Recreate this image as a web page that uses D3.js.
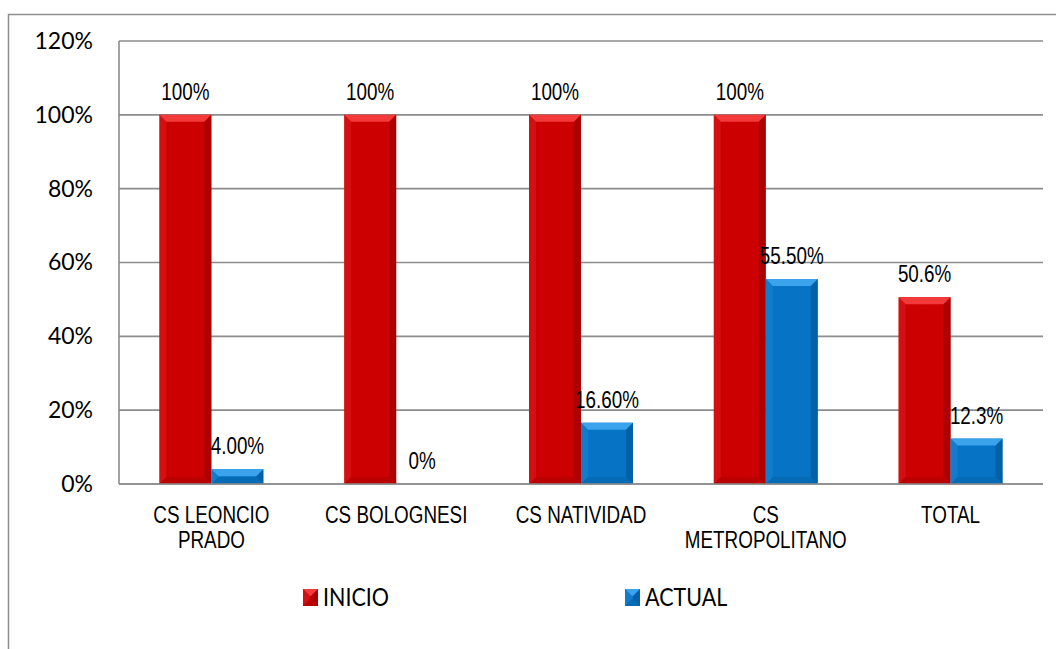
<!DOCTYPE html>
<html>
<head>
<meta charset="utf-8">
<script src="https://cdn.jsdelivr.net/npm/d3@7"></script>
<style>
  html, body { margin: 0; padding: 0; background: #fff; }
  svg { display: block; }
</style>
</head>
<body>
<svg id="chart" width="1056" height="649"></svg>
<script>
// Categories (label lines) and series values in percent
const categories = [
  ["CS LEONCIO", "PRADO"],
  ["CS BOLOGNESI"],
  ["CS NATIVIDAD"],
  ["CS", "METROPOLITANO"],
  ["TOTAL"]
];
const inicioValues = [100, 100, 100, 100, 50.6];
const actualValues = [4.0, 0, 16.6, 55.5, 12.3];
const inicioLabels = ["100%", "100%", "100%", "100%", "50.6%"];
const actualLabels = ["4.00%", "0%", "16.60%", "55.50%", "12.3%"];
const yTicks = [0, 20, 40, 60, 80, 100, 120];
const seriesNames = ["INICIO", "ACTUAL"];

const svg = d3.select("#chart");
const W = 1056, H = 649;
const plot = { left: 119, right: 1043, top: 41, bottom: 484 };

const colors = {
  INICIO: { base: "#CC0000", top: "#F23A3A", left: "#D92020", right: "#8E0000", bottom: "#A30000" },
  ACTUAL: { base: "#0673C4", top: "#3AA3EC", left: "#1C85D2", right: "#04508A", bottom: "#055E9F" }
};

const narrowFont = "'Liberation Sans', Arial, sans-serif";
const narrowScale = 0.82;
const bodyFont = "Lato, 'Open Sans', sans-serif";

// Text drawn in a condensed style by squeezing it horizontally
function narrowText(g, x, yPos, str, size) {
  return g.append("text")
    .attr("transform", `translate(${x},${yPos}) scale(${narrowScale},1)`)
    .attr("text-anchor", "middle")
    .attr("font-family", narrowFont).attr("font-size", size).attr("fill", "#000")
    .text(str);
}

// Outer chart frame (top and left edges)
svg.append("path")
  .attr("d", `M8.5,${H} L8.5,14.5 L${W},14.5`)
  .attr("fill", "none").attr("stroke", "#8f8f8f").attr("stroke-width", 1.5);

const y = d3.scaleLinear().domain([0, 120]).range([plot.bottom, plot.top]);
const x0 = d3.scaleBand().domain(d3.range(categories.length))
  .range([plot.left, plot.right]).paddingInner(0).paddingOuter(0);
const barW = 52;
const x1 = d3.scaleBand().domain(seriesNames).range([0, barW * 2]);

// Gridlines
svg.append("g").selectAll("line").data(yTicks).join("line")
  .attr("x1", plot.left).attr("x2", plot.right)
  .attr("y1", d => y(d)).attr("y2", d => y(d))
  .attr("stroke", "#8c8c8c").attr("stroke-width", 1.6);

// Left axis line
svg.append("line")
  .attr("x1", plot.left).attr("x2", plot.left)
  .attr("y1", plot.top).attr("y2", plot.bottom)
  .attr("stroke", "#8c8c8c").attr("stroke-width", 1.6);

// Y axis tick labels
const yAxis = d3.axisLeft(y).tickValues(yTicks).tickFormat(d => d + "%").tickSize(0).tickPadding(26);
const yg = svg.append("g").attr("transform", `translate(${plot.left},0)`).call(yAxis);
yg.select(".domain").remove();
yg.selectAll("text")
  .attr("font-family", bodyFont)
  .attr("font-size", 23).attr("fill", "#000");

// Bevelled bar drawing
function bevelBar(g, bx, by, bw, bh, c) {
  g.append("rect").attr("x", bx).attr("y", by).attr("width", bw).attr("height", bh).attr("fill", c.base);
  if (bh <= 0) return;
  const b = Math.min(7, bh / 2, bw / 2);
  const xr = bx + bw, yb = by + bh;
  g.append("polygon").attr("points", [[bx, by], [xr, by], [xr - b, by + b], [bx + b, by + b]].join(" ")).attr("fill", c.top);
  g.append("polygon").attr("points", [[xr, by], [xr, yb], [xr - b, yb - b], [xr - b, by + b]].join(" ")).attr("fill", c.right).attr("opacity", 0.5);
  g.append("polygon").attr("points", [[bx, by], [bx + b, by + b], [bx + b, yb - b], [bx, yb]].join(" ")).attr("fill", c.left).attr("opacity", 0.5);
  g.append("polygon").attr("points", [[bx, yb], [xr, yb], [xr - b, yb - b], [bx + b, yb - b]].join(" ")).attr("fill", c.bottom).attr("opacity", 0.4);
}

const series = [
  { name: "INICIO", values: inicioValues, labels: inicioLabels },
  { name: "ACTUAL", values: actualValues, labels: actualLabels }
];

const barX = (i, name) => x0(i) + x0.bandwidth() / 2 - barW + x1(name);

const barsG = svg.append("g");
series.forEach(s => {
  s.values.forEach((v, i) => {
    bevelBar(barsG, barX(i, s.name), y(v), x1.bandwidth(), y(0) - y(v), colors[s.name]);
  });
});

// Baseline over bar bottoms
svg.append("line")
  .attr("x1", plot.left).attr("x2", plot.right)
  .attr("y1", y(0)).attr("y2", y(0))
  .attr("stroke", "#8c8c8c").attr("stroke-width", 1.6);

// Data labels
const labelsG = svg.append("g");
series.forEach(s => {
  s.values.forEach((v, i) => {
    narrowText(labelsG, barX(i, s.name) + x1.bandwidth() / 2, y(v) - 15, s.labels[i], 23);
  });
});

// Category labels
const catG = svg.append("g");
categories.forEach((lines, i) => {
  lines.forEach((ln, k) => {
    narrowText(catG, x0(i) + x0.bandwidth() / 2, 523 + k * 25, ln, 23);
  });
});

// Legend
const legendX = [303, 625];
series.forEach((s, i) => {
  const lg = svg.append("g");
  bevelBar(lg, legendX[i], 589, 15, 17, colors[s.name]);
  lg.append("text")
    .attr("transform", `translate(${legendX[i] + 20},606) scale(0.86,1)`)
    .attr("font-family", bodyFont)
    .attr("font-size", 25).attr("fill", "#000")
    .text(s.name);
});
</script>
</body>
</html>
